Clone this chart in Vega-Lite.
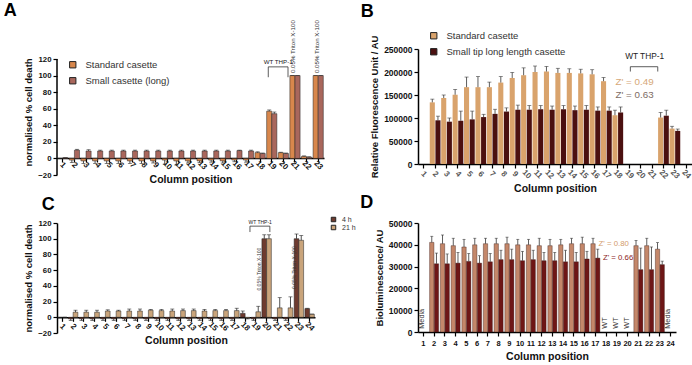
{
 "$schema": "https://vega.github.io/schema/vega-lite/v6.json",
 "background": "white",
 "padding": {"left": 3, "top": 2, "right": 0, "bottom": 0},
 "columns": 2,
 "align": "each",
 "spacing": {"row": -1, "column": 4},
 "resolve": {"scale": {"x": "independent", "y": "independent", "color": "independent", "xOffset": "independent"}, "legend": {"color": "independent"}, "axis": {"x": "independent", "y": "independent"}},
 "concat": [
  {
   "width": 267, "height": 126,
   "title": {"text": "A", "offset": 0, "dx": -20},
   "layer": [
    {
     "data": {"values": [
      {"c":1,"s":"Standard casette","v":0,"e":0},{"c":1,"s":"Small casette (long)","v":0.8,"e":0.8},
      {"c":2,"s":"Standard casette","v":-2,"e":-5},{"c":2,"s":"Small casette (long)","v":10,"e":11},
      {"c":3,"s":"Standard casette","v":-3,"e":-6},{"c":3,"s":"Small casette (long)","v":9,"e":10.5},
      {"c":4,"s":"Standard casette","v":-3,"e":-6},{"c":4,"s":"Small casette (long)","v":9,"e":10},
      {"c":5,"s":"Standard casette","v":-3,"e":-6},{"c":5,"s":"Small casette (long)","v":9,"e":10},
      {"c":6,"s":"Standard casette","v":-3,"e":-6},{"c":6,"s":"Small casette (long)","v":9,"e":10},
      {"c":7,"s":"Standard casette","v":-3,"e":-6},{"c":7,"s":"Small casette (long)","v":9,"e":10},
      {"c":8,"s":"Standard casette","v":-3,"e":-6},{"c":8,"s":"Small casette (long)","v":9,"e":10},
      {"c":9,"s":"Standard casette","v":-3,"e":-5.5},{"c":9,"s":"Small casette (long)","v":9,"e":10},
      {"c":10,"s":"Standard casette","v":-2,"e":-7},{"c":10,"s":"Small casette (long)","v":9,"e":10},
      {"c":11,"s":"Standard casette","v":-3,"e":-8},{"c":11,"s":"Small casette (long)","v":9,"e":10},
      {"c":12,"s":"Standard casette","v":-3,"e":-5.5},{"c":12,"s":"Small casette (long)","v":9,"e":10},
      {"c":13,"s":"Standard casette","v":-3,"e":-5},{"c":13,"s":"Small casette (long)","v":9,"e":10},
      {"c":14,"s":"Standard casette","v":-2,"e":-4.5},{"c":14,"s":"Small casette (long)","v":9,"e":10},
      {"c":15,"s":"Standard casette","v":-3,"e":-5.5},{"c":15,"s":"Small casette (long)","v":9,"e":10},
      {"c":16,"s":"Standard casette","v":-2,"e":-4},{"c":16,"s":"Small casette (long)","v":9.5,"e":10},
      {"c":17,"s":"Standard casette","v":-2,"e":-4.5},{"c":17,"s":"Small casette (long)","v":9,"e":10},
      {"c":18,"s":"Standard casette","v":7,"e":8},{"c":18,"s":"Small casette (long)","v":6,"e":6.5},
      {"c":19,"s":"Standard casette","v":57,"e":58.5},{"c":19,"s":"Small casette (long)","v":54,"e":56},
      {"c":20,"s":"Standard casette","v":7,"e":7.5},{"c":20,"s":"Small casette (long)","v":6,"e":6.5},
      {"c":21,"s":"Standard casette","v":100,"e":100},{"c":21,"s":"Small casette (long)","v":100,"e":100},
      {"c":22,"s":"Standard casette","v":2.5,"e":3},{"c":22,"s":"Small casette (long)","v":1.5,"e":2},
      {"c":23,"s":"Standard casette","v":100,"e":100},{"c":23,"s":"Small casette (long)","v":100,"e":100}
     ]},
     "layer": [
      {"mark": {"type": "bar", "stroke": "#222", "strokeWidth": 0.5},
       "encoding": {
        "x": {"field": "c", "type": "ordinal", "scale": {"domain": [1,2,3,4,5,6,7,8,9,10,11,12,13,14,15,16,17,18,19,20,21,22,23], "paddingInner": 0.12, "paddingOuter": 0.06},
              "axis": {"title": "Column position", "labelAngle": 45, "labelAlign": "center", "labelBaseline": "middle", "labelPadding": 3, "offset": -17, "labelFontSize": 8, "titleFontSize": 10.5, "titlePadding": 4}},
        "xOffset": {"field": "s", "type": "nominal", "sort": ["Standard casette", "Small casette (long)"], "scale": {"paddingInner": 0}},
        "y": {"field": "v", "type": "quantitative", "stack": null, "scale": {"domain": [-20, 132.07], "nice": false},
              "axis": {"title": "normalised % cell death", "values": [-20,0,20,40,60,80,100,120], "domain": false, "labelFontSize": 7.8, "titleFontSize": 9.5, "titlePadding": 4, "labelOverlap": false}},
        "color": {"field": "s", "type": "nominal", "sort": ["Standard casette", "Small casette (long)"],
                  "scale": {"domain": ["Standard casette", "Small casette (long)"], "range": ["#d8874c", "#a9675c"]},
                  "legend": {"title": null, "orient": "none", "legendX": 11, "legendY": 11, "symbolType": "square", "symbolSize": 40, "symbolStrokeColor": "#222", "symbolStrokeWidth": 1, "labelFontSize": 9.5, "labelColor": "#333", "rowPadding": 5, "labelOffset": 8}}
       }},
      {"mark": {"type": "rule", "color": "#222", "strokeWidth": 0.8},
       "encoding": {"x": {"field": "c", "type": "ordinal"}, "xOffset": {"field": "s", "type": "nominal", "sort": ["Standard casette", "Small casette (long)"]},
                    "y": {"field": "v", "type": "quantitative", "axis": {"title": "normalised % cell death", "values": [-20,0,20,40,60,80,100,120], "domain": false, "labelFontSize": 7.8, "titleFontSize": 9.5, "titlePadding": 4, "labelOverlap": false}}, "y2": {"field": "e"}}},
      {"mark": {"type": "tick", "color": "#222", "thickness": 0.8, "size": 4},
       "encoding": {"x": {"field": "c", "type": "ordinal"}, "xOffset": {"field": "s", "type": "nominal", "sort": ["Standard casette", "Small casette (long)"]},
                    "y": {"field": "e", "type": "quantitative", "axis": {"title": "normalised % cell death", "values": [-20,0,20,40,60,80,100,120], "domain": false, "labelFontSize": 7.8, "titleFontSize": 9.5, "titlePadding": 4, "labelOverlap": false}}}}
     ]
    },
    {"data": {"values": [{"x": 0.5, "y": -20, "y2": 120}]},
     "mark": {"type": "rule", "color": "#000", "strokeWidth": 1.5},
     "encoding": {"x": {"field": "x", "type": "quantitative", "scale": {"domain": [0.5, 23.5], "nice": false, "zero": false}, "axis": null},
                  "y": {"field": "y", "type": "quantitative", "axis": {"title": "normalised % cell death", "values": [-20,0,20,40,60,80,100,120], "domain": false, "labelFontSize": 7.8, "titleFontSize": 9.5, "titlePadding": 4, "labelOverlap": false}}, "y2": {"field": "y2"}}},
    {"data": {"values": [{"x": 18.7, "x2": 20.4, "y": 110.5, "y2": 110.5}, {"x": 18.7, "x2": 18.7, "y": 110.5, "y2": 98}, {"x": 20.4, "x2": 20.4, "y": 110.5, "y2": 98}]},
     "mark": {"type": "rule", "color": "#333", "strokeWidth": 0.8},
     "encoding": {"x": {"field": "x", "type": "quantitative", "scale": {"domain": [0.5, 23.5], "nice": false, "zero": false}, "axis": null}, "x2": {"field": "x2"},
                  "y": {"field": "y", "type": "quantitative", "axis": {"title": "normalised % cell death", "values": [-20,0,20,40,60,80,100,120], "domain": false, "labelFontSize": 7.8, "titleFontSize": 9.5, "titlePadding": 4, "labelOverlap": false}}, "y2": {"field": "y2"}}},
    {"data": {"values": [{"x": 19.55, "y": 116, "t": "WT THP-1"}]},
     "mark": {"type": "text", "fontSize": 6.2, "color": "#222", "baseline": "middle"},
     "encoding": {"x": {"field": "x", "type": "quantitative", "scale": {"domain": [0.5, 23.5], "nice": false, "zero": false}, "axis": null},
                  "y": {"field": "y", "type": "quantitative", "axis": {"title": "normalised % cell death", "values": [-20,0,20,40,60,80,100,120], "domain": false, "labelFontSize": 7.8, "titleFontSize": 9.5, "titlePadding": 4, "labelOverlap": false}}, "text": {"field": "t"}}},
    {"data": {"values": [{"x": 20.85, "y": 103, "t": "0.05% Triton X-100"}, {"x": 22.9, "y": 103, "t": "0.05% Triton X-100"}]},
     "mark": {"type": "text", "fontSize": 6.2, "color": "#333", "angle": 270, "align": "left", "baseline": "middle"},
     "encoding": {"x": {"field": "x", "type": "quantitative", "scale": {"domain": [0.5, 23.5], "nice": false, "zero": false}, "axis": null},
                  "y": {"field": "y", "type": "quantitative", "axis": {"title": "normalised % cell death", "values": [-20,0,20,40,60,80,100,120], "domain": false, "labelFontSize": 7.8, "titleFontSize": 9.5, "titlePadding": 4, "labelOverlap": false}}, "text": {"field": "t"}}}
   ],
   "resolve": {"scale": {"x": "independent"}}
  },
  {
   "width": 274, "height": 115,
   "title": {"text": "B", "offset": 10, "dx": -9},
   "layer": [
    {
     "data": {"values": [
      {"c":2,"s":"Standard casette","v":134000,"e":141000},{"c":2,"s":"Small tip long length casette","v":95000,"e":104000},
      {"c":3,"s":"Standard casette","v":143500,"e":150000},{"c":3,"s":"Small tip long length casette","v":92000,"e":100000},
      {"c":4,"s":"Standard casette","v":150600,"e":162000},{"c":4,"s":"Small tip long length casette","v":94000,"e":115000},
      {"c":5,"s":"Standard casette","v":167000,"e":189000},{"c":5,"s":"Small tip long length casette","v":97000,"e":115000},
      {"c":6,"s":"Standard casette","v":167000,"e":190000},{"c":6,"s":"Small tip long length casette","v":102000,"e":108000},
      {"c":7,"s":"Standard casette","v":167000,"e":178000},{"c":7,"s":"Small tip long length casette","v":109000,"e":119000},
      {"c":8,"s":"Standard casette","v":177000,"e":190000},{"c":8,"s":"Small tip long length casette","v":114000,"e":122000},
      {"c":9,"s":"Standard casette","v":187000,"e":199000},{"c":9,"s":"Small tip long length casette","v":118000,"e":128000},
      {"c":10,"s":"Standard casette","v":193000,"e":209000},{"c":10,"s":"Small tip long length casette","v":118000,"e":127000},
      {"c":11,"s":"Standard casette","v":200000,"e":213000},{"c":11,"s":"Small tip long length casette","v":119000,"e":127000},
      {"c":12,"s":"Standard casette","v":201000,"e":212000},{"c":12,"s":"Small tip long length casette","v":118000,"e":126000},
      {"c":13,"s":"Standard casette","v":198000,"e":208000},{"c":13,"s":"Small tip long length casette","v":119000,"e":127000},
      {"c":14,"s":"Standard casette","v":198000,"e":207000},{"c":14,"s":"Small tip long length casette","v":117000,"e":126000},
      {"c":15,"s":"Standard casette","v":197000,"e":206000},{"c":15,"s":"Small tip long length casette","v":118000,"e":127000},
      {"c":16,"s":"Standard casette","v":195000,"e":205000},{"c":16,"s":"Small tip long length casette","v":116000,"e":124000},
      {"c":17,"s":"Standard casette","v":180000,"e":188000},{"c":17,"s":"Small tip long length casette","v":116000,"e":124000},
      {"c":18,"s":"Standard casette","v":106000,"e":117000},{"c":18,"s":"Small tip long length casette","v":112000,"e":124000},
      {"c":22,"s":"Standard casette","v":101000,"e":112000},{"c":22,"s":"Small tip long length casette","v":105000,"e":117000},
      {"c":23,"s":"Standard casette","v":77000,"e":82000},{"c":23,"s":"Small tip long length casette","v":72000,"e":76000}
     ]},
     "layer": [
      {"mark": {"type": "bar"},
       "encoding": {
        "x": {"field": "c", "type": "ordinal", "scale": {"domain": [1,2,3,4,5,6,7,8,9,10,11,12,13,14,15,16,17,18,19,20,21,22,23,24], "paddingInner": 0.06, "paddingOuter": 0.03},
              "axis": {"title": "Column position", "labelAngle": 45, "labelAlign": "center", "labelBaseline": "middle", "labelPadding": 6, "labelFontSize": 8, "labelColor": "#555", "titleFontSize": 10.5, "titlePadding": 4}},
        "xOffset": {"field": "s", "type": "nominal", "sort": ["Standard casette", "Small tip long length casette"], "scale": {"paddingInner": 0.1}},
        "y": {"field": "v", "type": "quantitative", "stack": null, "scale": {"domain": [0, 250000], "nice": false},
              "axis": {"title": "Relative Fluorescence Unit / AU", "values": [0,50000,100000,150000,200000,250000], "format": "d", "labelFontSize": 8.5, "titleFontSize": 9.5, "titlePadding": 4, "labelOverlap": false}},
        "color": {"field": "s", "type": "nominal", "sort": ["Standard casette", "Small tip long length casette"],
                  "scale": {"domain": ["Standard casette", "Small tip long length casette"], "range": ["#d9a36c", "#4b1010"]},
                  "legend": {"title": null, "orient": "none", "legendX": 11, "legendY": -18, "symbolType": "square", "symbolSize": 40, "symbolStrokeColor": "#222", "symbolStrokeWidth": 1, "labelFontSize": 9.5, "labelColor": "#333", "rowPadding": 5, "labelOffset": 8}}
       }},
      {"mark": {"type": "rule", "color": "#333", "strokeWidth": 0.8},
       "encoding": {"x": {"field": "c", "type": "ordinal"}, "xOffset": {"field": "s", "type": "nominal", "sort": ["Standard casette", "Small tip long length casette"]},
                    "y": {"field": "v", "type": "quantitative", "axis": {"title": "Relative Fluorescence Unit / AU", "values": [0,50000,100000,150000,200000,250000], "format": "d", "labelFontSize": 8.5, "titleFontSize": 9.5, "titlePadding": 4, "labelOverlap": false}}, "y2": {"field": "e"}}},
      {"mark": {"type": "tick", "color": "#333", "thickness": 0.8, "size": 4},
       "encoding": {"x": {"field": "c", "type": "ordinal"}, "xOffset": {"field": "s", "type": "nominal", "sort": ["Standard casette", "Small tip long length casette"]},
                    "y": {"field": "e", "type": "quantitative", "axis": {"title": "Relative Fluorescence Unit / AU", "values": [0,50000,100000,150000,200000,250000], "format": "d", "labelFontSize": 8.5, "titleFontSize": 9.5, "titlePadding": 4, "labelOverlap": false}}}}
     ]
    },
    {"data": {"values": [{"x": 19.1, "x2": 21.5, "y": 211500, "y2": 211500}, {"x": 19.1, "x2": 19.1, "y": 211500, "y2": 201000}, {"x": 21.5, "x2": 21.5, "y": 211500, "y2": 201000}]},
     "mark": {"type": "rule", "color": "#333", "strokeWidth": 0.8},
     "encoding": {"x": {"field": "x", "type": "quantitative", "scale": {"domain": [0.5, 24.5], "nice": false, "zero": false}, "axis": null}, "x2": {"field": "x2"},
                  "y": {"field": "y", "type": "quantitative", "axis": {"title": "Relative Fluorescence Unit / AU", "values": [0,50000,100000,150000,200000,250000], "format": "d", "labelFontSize": 8.5, "titleFontSize": 9.5, "titlePadding": 4, "labelOverlap": false}}, "y2": {"field": "y2"}}},
    {"data": {"values": [{"x": 20.35, "y": 233000, "t": "WT THP-1"}]},
     "mark": {"type": "text", "fontSize": 8.3, "color": "#222", "baseline": "middle"},
     "encoding": {"x": {"field": "x", "type": "quantitative", "scale": {"domain": [0.5, 24.5], "nice": false, "zero": false}, "axis": null},
                  "y": {"field": "y", "type": "quantitative", "axis": {"title": "Relative Fluorescence Unit / AU", "values": [0,50000,100000,150000,200000,250000], "format": "d", "labelFontSize": 8.5, "titleFontSize": 9.5, "titlePadding": 4, "labelOverlap": false}}, "text": {"field": "t"}}},
    {"data": {"values": [{"x": 17.8, "y": 179000, "t": "Z' = 0.49"}]},
     "mark": {"type": "text", "fontSize": 9.8, "color": "#d6a777", "align": "left", "baseline": "middle"},
     "encoding": {"x": {"field": "x", "type": "quantitative", "scale": {"domain": [0.5, 24.5], "nice": false, "zero": false}, "axis": null},
                  "y": {"field": "y", "type": "quantitative", "axis": {"title": "Relative Fluorescence Unit / AU", "values": [0,50000,100000,150000,200000,250000], "format": "d", "labelFontSize": 8.5, "titleFontSize": 9.5, "titlePadding": 4, "labelOverlap": false}}, "text": {"field": "t"}}},
    {"data": {"values": [{"x": 17.8, "y": 150000, "t": "Z' = 0.63"}]},
     "mark": {"type": "text", "fontSize": 9.8, "color": "#7d6b64", "align": "left", "baseline": "middle"},
     "encoding": {"x": {"field": "x", "type": "quantitative", "scale": {"domain": [0.5, 24.5], "nice": false, "zero": false}, "axis": null},
                  "y": {"field": "y", "type": "quantitative", "axis": {"title": "Relative Fluorescence Unit / AU", "values": [0,50000,100000,150000,200000,250000], "format": "d", "labelFontSize": 8.5, "titleFontSize": 9.5, "titlePadding": 4, "labelOverlap": false}}, "text": {"field": "t"}}}
   ],
   "resolve": {"scale": {"x": "independent"}}
  },
  {
   "width": 258, "height": 110,
   "title": {"text": "C", "offset": 2, "dx": 18},
   "layer": [
    {
     "data": {"values": [
      {"c":1,"s":"4 h","v":0,"e":0},{"c":1,"s":"21 h","v":0,"e":0},
      {"c":2,"s":"4 h","v":-2,"e":-4},{"c":2,"s":"21 h","v":6.5,"e":9},
      {"c":3,"s":"4 h","v":-2,"e":-4},{"c":3,"s":"21 h","v":6.5,"e":9},
      {"c":4,"s":"4 h","v":-2,"e":-4},{"c":4,"s":"21 h","v":6.5,"e":9},
      {"c":5,"s":"4 h","v":-2,"e":-4},{"c":5,"s":"21 h","v":8,"e":9.5},
      {"c":6,"s":"4 h","v":-2,"e":-4},{"c":6,"s":"21 h","v":8,"e":9},
      {"c":7,"s":"4 h","v":-2,"e":-4},{"c":7,"s":"21 h","v":8,"e":10.5},
      {"c":8,"s":"4 h","v":-2,"e":-4},{"c":8,"s":"21 h","v":8,"e":10.5},
      {"c":9,"s":"4 h","v":-2,"e":-4},{"c":9,"s":"21 h","v":9,"e":10},
      {"c":10,"s":"4 h","v":-2,"e":-4},{"c":10,"s":"21 h","v":8.5,"e":10},
      {"c":11,"s":"4 h","v":-2,"e":-4},{"c":11,"s":"21 h","v":8,"e":10.5},
      {"c":12,"s":"4 h","v":-2,"e":-4},{"c":12,"s":"21 h","v":8.5,"e":10.5},
      {"c":13,"s":"4 h","v":-2,"e":-4},{"c":13,"s":"21 h","v":8.5,"e":10.5},
      {"c":14,"s":"4 h","v":-2,"e":-4},{"c":14,"s":"21 h","v":8,"e":10},
      {"c":15,"s":"4 h","v":-2,"e":-4},{"c":15,"s":"21 h","v":8.5,"e":10},
      {"c":16,"s":"4 h","v":-2,"e":-4},{"c":16,"s":"21 h","v":8.5,"e":10},
      {"c":17,"s":"4 h","v":-2,"e":-4},{"c":17,"s":"21 h","v":8.5,"e":11.5},
      {"c":18,"s":"4 h","v":5,"e":8},{"c":18,"s":"21 h","v":-1,"e":-2},
      {"c":19,"s":"4 h","v":-2,"e":-4},{"c":19,"s":"21 h","v":7,"e":14},
      {"c":20,"s":"4 h","v":100,"e":105},{"c":20,"s":"21 h","v":100,"e":105},
      {"c":21,"s":"4 h","v":-2,"e":-4},{"c":21,"s":"21 h","v":12,"e":25},
      {"c":22,"s":"4 h","v":-2,"e":-4},{"c":22,"s":"21 h","v":12,"e":26},
      {"c":23,"s":"4 h","v":100,"e":106},{"c":23,"s":"21 h","v":98,"e":104},
      {"c":24,"s":"4 h","v":11,"e":11.5},{"c":24,"s":"21 h","v":4,"e":4}
     ]},
     "layer": [
      {"mark": {"type": "bar", "stroke": "#222", "strokeWidth": 0.5},
       "encoding": {
        "x": {"field": "c", "type": "ordinal", "scale": {"domain": [1,2,3,4,5,6,7,8,9,10,11,12,13,14,15,16,17,18,19,20,21,22,23,24], "paddingInner": 0.12, "paddingOuter": 0.06},
              "axis": {"title": "Column position", "labelAngle": 45, "labelAlign": "center", "labelBaseline": "middle", "labelPadding": 5, "offset": -15.7, "labelFontSize": 8, "titleFontSize": 10.5, "titlePadding": 3}},
        "xOffset": {"field": "s", "type": "nominal", "sort": ["4 h", "21 h"], "scale": {"paddingInner": 0}},
        "y": {"field": "v", "type": "quantitative", "stack": null, "scale": {"domain": [-20, 120], "nice": false},
              "axis": {"title": "normalised % cell death", "values": [-20,0,20,40,60,80,100,120], "labelFontSize": 7.8, "titleFontSize": 9.5, "titlePadding": 4, "labelOverlap": false}},
        "color": {"field": "s", "type": "nominal", "sort": ["4 h", "21 h"],
                  "scale": {"domain": ["4 h", "21 h"], "range": ["#6e3b2f", "#c9a47b"]},
                  "legend": {"title": null, "orient": "none", "legendX": 273, "legendY": -7, "symbolType": "square", "symbolSize": 20, "symbolStrokeColor": "#222", "symbolStrokeWidth": 1, "labelFontSize": 7, "labelColor": "#333", "rowPadding": -3, "labelOffset": 5}}
       }},
      {"mark": {"type": "rule", "color": "#222", "strokeWidth": 0.8},
       "encoding": {"x": {"field": "c", "type": "ordinal"}, "xOffset": {"field": "s", "type": "nominal", "sort": ["4 h", "21 h"]},
                    "y": {"field": "v", "type": "quantitative", "axis": {"title": "normalised % cell death", "values": [-20,0,20,40,60,80,100,120], "labelFontSize": 7.8, "titleFontSize": 9.5, "titlePadding": 4, "labelOverlap": false}}, "y2": {"field": "e"}}},
      {"mark": {"type": "tick", "color": "#222", "thickness": 0.8, "size": 4},
       "encoding": {"x": {"field": "c", "type": "ordinal"}, "xOffset": {"field": "s", "type": "nominal", "sort": ["4 h", "21 h"]},
                    "y": {"field": "e", "type": "quantitative", "axis": {"title": "normalised % cell death", "values": [-20,0,20,40,60,80,100,120], "labelFontSize": 7.8, "titleFontSize": 9.5, "titlePadding": 4, "labelOverlap": false}}}}
     ]
    },
    {"data": {"values": [{"x": 18.45, "x2": 20.3, "y": 116, "y2": 116}, {"x": 18.45, "x2": 18.45, "y": 116, "y2": 108.5}, {"x": 20.3, "x2": 20.3, "y": 116, "y2": 108.5}]},
     "mark": {"type": "rule", "color": "#333", "strokeWidth": 0.8},
     "encoding": {"x": {"field": "x", "type": "quantitative", "scale": {"domain": [0.5, 24.5], "nice": false, "zero": false}, "axis": null}, "x2": {"field": "x2"},
                  "y": {"field": "y", "type": "quantitative", "axis": {"title": "normalised % cell death", "values": [-20,0,20,40,60,80,100,120], "labelFontSize": 7.8, "titleFontSize": 9.5, "titlePadding": 4, "labelOverlap": false}}, "y2": {"field": "y2"}}},
    {"data": {"values": [{"x": 19.4, "y": 121, "t": "WT THP-1"}]},
     "mark": {"type": "text", "fontSize": 5, "color": "#222", "baseline": "middle"},
     "encoding": {"x": {"field": "x", "type": "quantitative", "scale": {"domain": [0.5, 24.5], "nice": false, "zero": false}, "axis": null},
                  "y": {"field": "y", "type": "quantitative", "axis": {"title": "normalised % cell death", "values": [-20,0,20,40,60,80,100,120], "labelFontSize": 7.8, "titleFontSize": 9.5, "titlePadding": 4, "labelOverlap": false}}, "text": {"field": "t"}}},
    {"data": {"values": [{"x": 19.3, "y": 34, "t": "0.05% Triton X-100"}, {"x": 22.5, "y": 36, "t": "0.05% Triton X-100"}]},
     "mark": {"type": "text", "fontSize": 5, "color": "#333", "angle": 270, "align": "left", "baseline": "middle"},
     "encoding": {"x": {"field": "x", "type": "quantitative", "scale": {"domain": [0.5, 24.5], "nice": false, "zero": false}, "axis": null},
                  "y": {"field": "y", "type": "quantitative", "axis": {"title": "normalised % cell death", "values": [-20,0,20,40,60,80,100,120], "labelFontSize": 7.8, "titleFontSize": 9.5, "titlePadding": 4, "labelOverlap": false}}, "text": {"field": "t"}}}
   ],
   "resolve": {"scale": {"x": "independent"}}
  },
  {
   "width": 258, "height": 109,
   "title": {"text": "D", "offset": 7, "dx": -14},
   "layer": [
    {
     "data": {"values": [
      {"c":2,"s":"Standard","v":41100,"e":43900},{"c":2,"s":"Small tip","v":31300,"e":36200},
      {"c":3,"s":"Standard","v":40500,"e":44500},{"c":3,"s":"Small tip","v":31300,"e":35800},
      {"c":4,"s":"Standard","v":39600,"e":43000},{"c":4,"s":"Small tip","v":31600,"e":36500},
      {"c":5,"s":"Standard","v":39000,"e":42500},{"c":5,"s":"Small tip","v":32400,"e":36000},
      {"c":6,"s":"Standard","v":40000,"e":43000},{"c":6,"s":"Small tip","v":31600,"e":35000},
      {"c":7,"s":"Standard","v":40500,"e":43000},{"c":7,"s":"Small tip","v":32200,"e":36000},
      {"c":8,"s":"Standard","v":40500,"e":43000},{"c":8,"s":"Small tip","v":33200,"e":37500},
      {"c":9,"s":"Standard","v":40500,"e":43500},{"c":9,"s":"Small tip","v":33200,"e":38000},
      {"c":10,"s":"Standard","v":40000,"e":42500},{"c":10,"s":"Small tip","v":32700,"e":37000},
      {"c":11,"s":"Standard","v":40000,"e":42500},{"c":11,"s":"Small tip","v":33200,"e":37500},
      {"c":12,"s":"Standard","v":39600,"e":43000},{"c":12,"s":"Small tip","v":32700,"e":36500},
      {"c":13,"s":"Standard","v":39600,"e":42500},{"c":13,"s":"Small tip","v":32700,"e":36500},
      {"c":14,"s":"Standard","v":40000,"e":42500},{"c":14,"s":"Small tip","v":32200,"e":37500},
      {"c":15,"s":"Standard","v":40500,"e":43000},{"c":15,"s":"Small tip","v":32200,"e":36500},
      {"c":16,"s":"Standard","v":40500,"e":43500},{"c":16,"s":"Small tip","v":33500,"e":37000},
      {"c":17,"s":"Standard","v":40500,"e":43000},{"c":17,"s":"Small tip","v":33900,"e":38000},
      {"c":21,"s":"Standard","v":39600,"e":42000},{"c":21,"s":"Small tip","v":28600,"e":38500},
      {"c":22,"s":"Standard","v":39600,"e":43000},{"c":22,"s":"Small tip","v":28600,"e":39000},
      {"c":23,"s":"Standard","v":38000,"e":41000},{"c":23,"s":"Small tip","v":30900,"e":32500}
     ]},
     "layer": [
      {"mark": {"type": "bar", "stroke": "#3a1a14", "strokeWidth": 0.4},
       "encoding": {
        "x": {"field": "c", "type": "ordinal", "scale": {"domain": [1,2,3,4,5,6,7,8,9,10,11,12,13,14,15,16,17,18,19,20,21,22,23,24], "paddingInner": 0.16, "paddingOuter": 0.08},
              "axis": {"title": "Column position", "labelAngle": 0, "labelPadding": 3, "labelFontSize": 7.5, "titleFontSize": 10.5, "titlePadding": 5}},
        "xOffset": {"field": "s", "type": "nominal", "sort": ["Standard", "Small tip"], "scale": {"paddingInner": 0.08}},
        "y": {"field": "v", "type": "quantitative", "stack": null, "scale": {"domain": [0, 50000], "nice": false},
              "axis": {"title": "Bioluminescence/ AU", "values": [0,10000,20000,30000,40000,50000], "format": "d", "labelFontSize": 8.5, "titleFontSize": 9.5, "titlePadding": 4, "labelOverlap": false}},
        "color": {"field": "s", "type": "nominal", "sort": ["Standard", "Small tip"],
                  "scale": {"domain": ["Standard", "Small tip"], "range": ["#c4876a", "#6e1616"]}, "legend": null}
       }},
      {"mark": {"type": "rule", "color": "#333", "strokeWidth": 0.8},
       "encoding": {"x": {"field": "c", "type": "ordinal"}, "xOffset": {"field": "s", "type": "nominal", "sort": ["Standard", "Small tip"]},
                    "y": {"field": "v", "type": "quantitative", "axis": {"title": "Bioluminescence/ AU", "values": [0,10000,20000,30000,40000,50000], "format": "d", "labelFontSize": 8.5, "titleFontSize": 9.5, "titlePadding": 4, "labelOverlap": false}}, "y2": {"field": "e"}}},
      {"mark": {"type": "tick", "color": "#333", "thickness": 0.8, "size": 3},
       "encoding": {"x": {"field": "c", "type": "ordinal"}, "xOffset": {"field": "s", "type": "nominal", "sort": ["Standard", "Small tip"]},
                    "y": {"field": "e", "type": "quantitative", "axis": {"title": "Bioluminescence/ AU", "values": [0,10000,20000,30000,40000,50000], "format": "d", "labelFontSize": 8.5, "titleFontSize": 9.5, "titlePadding": 4, "labelOverlap": false}}}}
     ]
    },
    {"data": {"values": [{"x": 17.3, "y": 40500, "t": "Z' = 0.80"}]},
     "mark": {"type": "text", "fontSize": 7.8, "color": "#d39a6a", "align": "left", "baseline": "middle"},
     "encoding": {"x": {"field": "x", "type": "quantitative", "scale": {"domain": [0.5, 24.5], "nice": false, "zero": false}, "axis": null},
                  "y": {"field": "y", "type": "quantitative", "axis": {"title": "Bioluminescence/ AU", "values": [0,10000,20000,30000,40000,50000], "format": "d", "labelFontSize": 8.5, "titleFontSize": 9.5, "titlePadding": 4, "labelOverlap": false}}, "text": {"field": "t"}}},
    {"data": {"values": [{"x": 17.7, "y": 34000, "t": "Z' = 0.66"}]},
     "mark": {"type": "text", "fontSize": 7.8, "color": "#8b1c1c", "align": "left", "baseline": "middle"},
     "encoding": {"x": {"field": "x", "type": "quantitative", "scale": {"domain": [0.5, 24.5], "nice": false, "zero": false}, "axis": null},
                  "y": {"field": "y", "type": "quantitative", "axis": {"title": "Bioluminescence/ AU", "values": [0,10000,20000,30000,40000,50000], "format": "d", "labelFontSize": 8.5, "titleFontSize": 9.5, "titlePadding": 4, "labelOverlap": false}}, "text": {"field": "t"}}},
    {"data": {"values": [{"x": 0.9, "y": 1500, "t": "Media"}, {"x": 17.9, "y": 1500, "t": "WT"}, {"x": 18.9, "y": 1500, "t": "WT"}, {"x": 19.9, "y": 1500, "t": "WT"}, {"x": 23.8, "y": 1500, "t": "Media"}]},
     "mark": {"type": "text", "fontSize": 7.3, "color": "#333", "angle": 270, "align": "left", "baseline": "middle"},
     "encoding": {"x": {"field": "x", "type": "quantitative", "scale": {"domain": [0.5, 24.5], "nice": false, "zero": false}, "axis": null},
                  "y": {"field": "y", "type": "quantitative", "axis": {"title": "Bioluminescence/ AU", "values": [0,10000,20000,30000,40000,50000], "format": "d", "labelFontSize": 8.5, "titleFontSize": 9.5, "titlePadding": 4, "labelOverlap": false}}, "text": {"field": "t"}}}
   ],
   "resolve": {"scale": {"x": "independent"}}
  }
 ],
 "config": {
  "font": "Liberation Sans",
  "view": {"stroke": null},
  "axis": {"grid": false, "labelOverlap": false, "labelFlush": false, "domainColor": "#000", "domainWidth": 1.5, "tickColor": "#000", "tickWidth": 1.2, "tickSize": 4, "labelColor": "#111", "labelFontWeight": "bold", "labelFontSize": 8, "titleColor": "#111", "titleFontWeight": "bold", "titleFontSize": 10},
  "title": {"fontSize": 18, "fontWeight": "bold", "anchor": "start", "frame": "bounds", "color": "#000"}
 }
}
